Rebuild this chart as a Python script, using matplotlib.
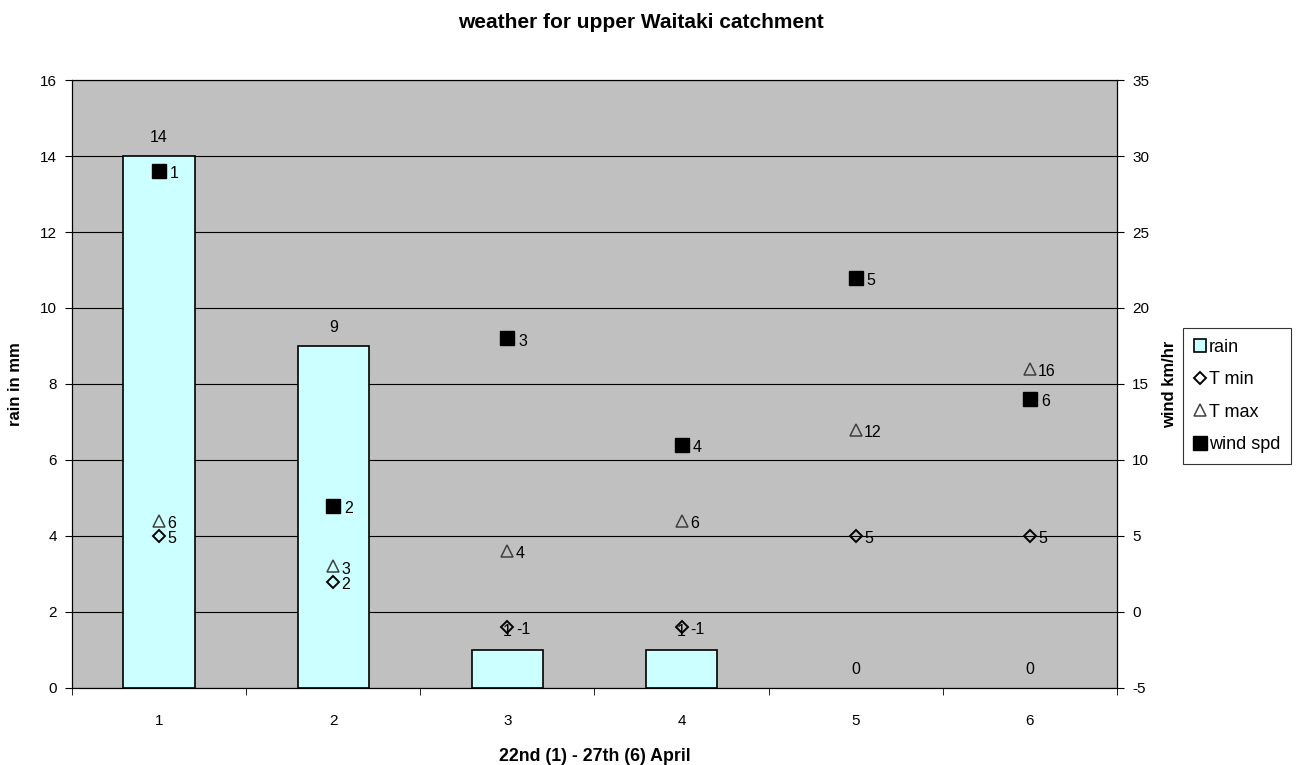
import matplotlib.pyplot as plt

plt.rcParams['font.family'] = ['Liberation Sans', 'DejaVu Sans']
plt.rcParams['axes.unicode_minus'] = False

###### data ######
days = [1, 2, 3, 4, 5, 6]
rain = [14, 9, 1, 1, 0, 0]
t_min = [5, 2, -1, -1, 5, 5]
t_max = [6, 3, 4, 6, 12, 16]
wind = [29, 7, 18, 11, 22, 14]
# the wind labels in the original show the day number, not the value
wind_labels = ['1', '2', '3', '4', '5', '6']

fig = plt.figure(figsize=(13.03, 7.65), dpi=100)
ax = fig.add_axes([0.0553, 0.1007, 0.8019, 0.7947])
ax.set_facecolor('#C0C0C0')

# rain bars on the left axis
bars = ax.bar(days, rain, width=0.41, color='#CCFFFF', edgecolor='black', linewidth=1.2, zorder=2, label='rain')
for b, r in zip(bars, rain):
    if r == 0:
        b.set_edgecolor('none')
ax.set_xlim(0.5, 6.5)
ax.set_ylim(0, 16)
ax.set_yticks(range(0, 17, 2))
ax.yaxis.grid(True, color='black', linewidth=0.8, zorder=1)
ax.set_axisbelow(True)
for x, r in zip(days, rain):
    ax.annotate(str(r), (x, r), xytext=(0, 13), textcoords='offset points',
                ha='center', va='center', fontsize=11.5)

ax.set_xticks(days)
ax.set_xticks([d + 0.5 for d in range(0, 7)], minor=True)
ax.tick_params(axis='x', which='major', length=0, labelsize=11, pad=19)
ax.tick_params(axis='x', which='minor', length=5, direction='out')
ax.tick_params(axis='y', length=5, labelsize=11, pad=6)
ax.set_xlabel('22nd (1) - 27th (6) April', fontsize=12.8, fontweight='bold', labelpad=14)
ax.set_ylabel('rain in mm', fontsize=12, fontweight='bold', labelpad=12)
for s in ax.spines.values():
    s.set_color('black')
    s.set_linewidth(0.8)

# temperatures and wind on the right axis
ax2 = ax.twinx()
ax2.set_ylim(-5, 35)
ax2.set_yticks(range(-5, 36, 5))
ax2.tick_params(axis='y', length=5, labelsize=11, pad=6)
ax2.set_ylabel('wind km/hr', fontsize=12, fontweight='bold', labelpad=9)

l_min, = ax2.plot(days, t_min, linestyle='none', marker='D', markersize=6,
                  markerfacecolor='none', markeredgecolor='black', markeredgewidth=1.4, label='T min')
l_max, = ax2.plot(days, t_max, linestyle='none', marker='^', markersize=8,
                  markerfacecolor='none', markeredgecolor='#404040', markeredgewidth=1.1, label='T max')
l_wind, = ax2.plot(days, wind, linestyle='none', marker='s', markersize=9.5,
                   color='black', label='wind spd')

for x, v in zip(days, t_min):
    ax2.annotate(str(v), (x, v), xytext=(6, -2), textcoords='offset points',
                 ha='left', va='center', fontsize=11.5)
for x, v in zip(days, t_max):
    ax2.annotate(str(v), (x, v), xytext=(6, -2), textcoords='offset points',
                 ha='left', va='center', fontsize=11.5)
for x, v, lab in zip(days, wind, wind_labels):
    ax2.annotate(lab, (x, v), xytext=(8, -2), textcoords='offset points',
                 ha='left', va='center', fontsize=11.5)

fig.text(0.492, 1 - 22 / 765, 'weather for upper Waitaki catchment',
         ha='center', va='center', fontsize=15, fontweight='bold')

leg = fig.legend([bars, l_min, l_max, l_wind], ['rain', 'T min', 'T max', 'wind spd'],
                 loc='upper left', bbox_to_anchor=(1183 / 1303, 1 - 328 / 765),
                 borderaxespad=0, fontsize=13, frameon=True, fancybox=False, edgecolor='black',
                 handlelength=0.7, handletextpad=0.15, labelspacing=0.85,
                 borderpad=0.6, markerscale=1.0)
leg.get_frame().set_linewidth(0.8)

plt.savefig('out.png', dpi=100)
